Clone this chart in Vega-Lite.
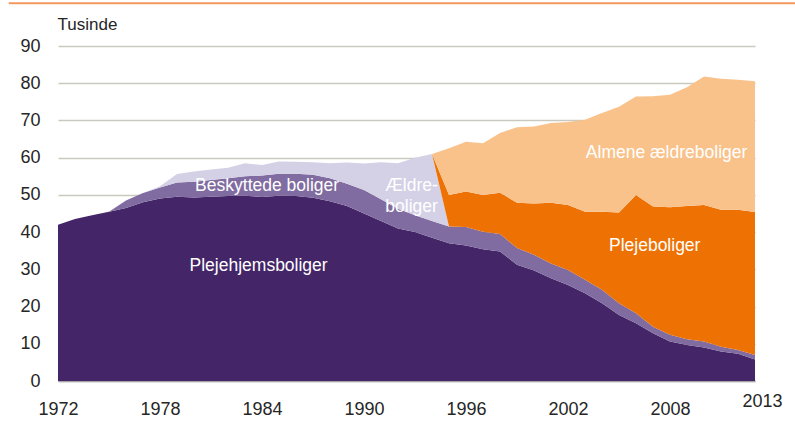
{
  "$schema": "https://vega.github.io/schema/vega-lite/v6.json",
  "width": 697,
  "height": 335,
  "autosize": "none",
  "padding": {"left": 58, "top": 46, "right": 40, "bottom": 42},
  "background": "white",
  "config": {
    "view": {"stroke": null},
    "font": "Liberation Sans, Arial, sans-serif",
    "axisY": {
      "titleAngle": 0,
      "titleAlign": "left",
      "titleBaseline": "alphabetic",
      "titleX": -1,
      "titleY": -17,
      "titleFont": "Liberation Sans, Arial, sans-serif",
      "titleFontSize": 17,
      "titleFontWeight": "normal",
      "titleColor": "#262626",
      "grid": true,
      "gridColor": "#C9C9C0",
      "gridWidth": 1.5,
      "ticks": false,
      "domain": false,
      "labelFont": "Liberation Sans, Arial, sans-serif",
      "labelFontSize": 18,
      "labelColor": "#262626",
      "labelPadding": 18,
      "labelOverlap": false,
      "labelFlush": false
    }
  },
  "layer": [
    {
      "data": {
        "values": [
          {"year": 1972, "Plejehjemsboliger": 42.0, "Beskyttede boliger": 0, "Ældreboliger": 0, "Plejeboliger": 0, "Almene ældreboliger": 0},
          {"year": 1973, "Plejehjemsboliger": 43.5, "Beskyttede boliger": 0, "Ældreboliger": 0, "Plejeboliger": 0, "Almene ældreboliger": 0},
          {"year": 1974, "Plejehjemsboliger": 44.5, "Beskyttede boliger": 0, "Ældreboliger": 0, "Plejeboliger": 0, "Almene ældreboliger": 0},
          {"year": 1975, "Plejehjemsboliger": 45.5, "Beskyttede boliger": 0, "Ældreboliger": 0, "Plejeboliger": 0, "Almene ældreboliger": 0},
          {"year": 1976, "Plejehjemsboliger": 46.5, "Beskyttede boliger": 2.0, "Ældreboliger": 0, "Plejeboliger": 0, "Almene ældreboliger": 0},
          {"year": 1977, "Plejehjemsboliger": 48.0, "Beskyttede boliger": 2.5, "Ældreboliger": 0, "Plejeboliger": 0, "Almene ældreboliger": 0},
          {"year": 1978, "Plejehjemsboliger": 49.0, "Beskyttede boliger": 3.0, "Ældreboliger": 0.3, "Plejeboliger": 0, "Almene ældreboliger": 0},
          {"year": 1979, "Plejehjemsboliger": 49.5, "Beskyttede boliger": 3.8, "Ældreboliger": 2.3, "Plejeboliger": 0, "Almene ældreboliger": 0},
          {"year": 1980, "Plejehjemsboliger": 49.3, "Beskyttede boliger": 4.2, "Ældreboliger": 2.8, "Plejeboliger": 0, "Almene ældreboliger": 0},
          {"year": 1981, "Plejehjemsboliger": 49.5, "Beskyttede boliger": 4.5, "Ældreboliger": 2.8, "Plejeboliger": 0, "Almene ældreboliger": 0},
          {"year": 1982, "Plejehjemsboliger": 49.7, "Beskyttede boliger": 4.8, "Ældreboliger": 2.8, "Plejeboliger": 0, "Almene ældreboliger": 0},
          {"year": 1983, "Plejehjemsboliger": 49.8, "Beskyttede boliger": 5.2, "Ældreboliger": 3.5, "Plejeboliger": 0, "Almene ældreboliger": 0},
          {"year": 1984, "Plejehjemsboliger": 49.4, "Beskyttede boliger": 5.8, "Ældreboliger": 2.8, "Plejeboliger": 0, "Almene ældreboliger": 0},
          {"year": 1985, "Plejehjemsboliger": 49.8, "Beskyttede boliger": 5.9, "Ældreboliger": 3.3, "Plejeboliger": 0, "Almene ældreboliger": 0},
          {"year": 1986, "Plejehjemsboliger": 49.7, "Beskyttede boliger": 6.0, "Ældreboliger": 3.2, "Plejeboliger": 0, "Almene ældreboliger": 0},
          {"year": 1987, "Plejehjemsboliger": 49.2, "Beskyttede boliger": 6.2, "Ældreboliger": 3.4, "Plejeboliger": 0, "Almene ældreboliger": 0},
          {"year": 1988, "Plejehjemsboliger": 48.3, "Beskyttede boliger": 6.2, "Ældreboliger": 4.0, "Plejeboliger": 0, "Almene ældreboliger": 0},
          {"year": 1989, "Plejehjemsboliger": 47.0, "Beskyttede boliger": 6.0, "Ældreboliger": 5.7, "Plejeboliger": 0, "Almene ældreboliger": 0},
          {"year": 1990, "Plejehjemsboliger": 45.0, "Beskyttede boliger": 6.3, "Ældreboliger": 7.1, "Plejeboliger": 0, "Almene ældreboliger": 0},
          {"year": 1991, "Plejehjemsboliger": 43.0, "Beskyttede boliger": 5.8, "Ældreboliger": 10.0, "Plejeboliger": 0, "Almene ældreboliger": 0},
          {"year": 1992, "Plejehjemsboliger": 41.0, "Beskyttede boliger": 5.3, "Ældreboliger": 12.2, "Plejeboliger": 0, "Almene ældreboliger": 0},
          {"year": 1993, "Plejehjemsboliger": 40.0, "Beskyttede boliger": 4.5, "Ældreboliger": 15.5, "Plejeboliger": 0, "Almene ældreboliger": 0},
          {"year": 1994, "Plejehjemsboliger": 38.5, "Beskyttede boliger": 4.5, "Ældreboliger": 18.0, "Plejeboliger": 0, "Almene ældreboliger": 0},
          {"year": 1995, "Plejehjemsboliger": 37.0, "Beskyttede boliger": 4.5, "Ældreboliger": 0, "Plejeboliger": 8.5, "Almene ældreboliger": 12.5},
          {"year": 1996, "Plejehjemsboliger": 36.4, "Beskyttede boliger": 5.0, "Ældreboliger": 0, "Plejeboliger": 9.5, "Almene ældreboliger": 13.4},
          {"year": 1997, "Plejehjemsboliger": 35.4, "Beskyttede boliger": 4.7, "Ældreboliger": 0, "Plejeboliger": 9.9, "Almene ældreboliger": 13.9},
          {"year": 1998, "Plejehjemsboliger": 34.8, "Beskyttede boliger": 4.7, "Ældreboliger": 0, "Plejeboliger": 11.1, "Almene ældreboliger": 16.0},
          {"year": 1999, "Plejehjemsboliger": 31.2, "Beskyttede boliger": 4.5, "Ældreboliger": 0, "Plejeboliger": 12.2, "Almene ældreboliger": 20.3},
          {"year": 2000, "Plejehjemsboliger": 29.7, "Beskyttede boliger": 4.2, "Ældreboliger": 0, "Plejeboliger": 13.8, "Almene ældreboliger": 20.7},
          {"year": 2001, "Plejehjemsboliger": 27.6, "Beskyttede boliger": 4.0, "Ældreboliger": 0, "Plejeboliger": 16.3, "Almene ældreboliger": 21.4},
          {"year": 2002, "Plejehjemsboliger": 25.8, "Beskyttede boliger": 4.0, "Ældreboliger": 0, "Plejeboliger": 17.5, "Almene ældreboliger": 22.3},
          {"year": 2003, "Plejehjemsboliger": 23.6, "Beskyttede boliger": 3.6, "Ældreboliger": 0, "Plejeboliger": 18.3, "Almene ældreboliger": 24.7},
          {"year": 2004, "Plejehjemsboliger": 20.9, "Beskyttede boliger": 3.6, "Ældreboliger": 0, "Plejeboliger": 21.0, "Almene ældreboliger": 26.5},
          {"year": 2005, "Plejehjemsboliger": 17.7, "Beskyttede boliger": 3.2, "Ældreboliger": 0, "Plejeboliger": 24.4, "Almene ældreboliger": 28.4},
          {"year": 2006, "Plejehjemsboliger": 15.5, "Beskyttede boliger": 2.7, "Ældreboliger": 0, "Plejeboliger": 31.8, "Almene ældreboliger": 26.4},
          {"year": 2007, "Plejehjemsboliger": 12.8, "Beskyttede boliger": 1.8, "Ældreboliger": 0, "Plejeboliger": 32.3, "Almene ældreboliger": 29.6},
          {"year": 2008, "Plejehjemsboliger": 10.6, "Beskyttede boliger": 1.8, "Ældreboliger": 0, "Plejeboliger": 34.3, "Almene ældreboliger": 30.2},
          {"year": 2009, "Plejehjemsboliger": 9.7, "Beskyttede boliger": 1.5, "Ældreboliger": 0, "Plejeboliger": 35.8, "Almene ældreboliger": 31.9},
          {"year": 2010, "Plejehjemsboliger": 9.0, "Beskyttede boliger": 1.6, "Ældreboliger": 0, "Plejeboliger": 36.7, "Almene ældreboliger": 34.5},
          {"year": 2011, "Plejehjemsboliger": 7.9, "Beskyttede boliger": 1.3, "Ældreboliger": 0, "Plejeboliger": 36.8, "Almene ældreboliger": 35.2},
          {"year": 2012, "Plejehjemsboliger": 7.3, "Beskyttede boliger": 1.0, "Ældreboliger": 0, "Plejeboliger": 37.7, "Almene ældreboliger": 34.9},
          {"year": 2013, "Plejehjemsboliger": 5.8, "Beskyttede boliger": 1.2, "Ældreboliger": 0, "Plejeboliger": 38.4, "Almene ældreboliger": 35.1}
        ]
      },
      "transform": [
        {"fold": ["Plejehjemsboliger", "Beskyttede boliger", "Ældreboliger", "Plejeboliger", "Almene ældreboliger"], "as": ["type", "value"]},
        {
          "lookup": "type",
          "from": {
            "data": {
              "values": [
                {"type": "Plejehjemsboliger", "rank": 1},
                {"type": "Beskyttede boliger", "rank": 2},
                {"type": "Ældreboliger", "rank": 3},
                {"type": "Plejeboliger", "rank": 4},
                {"type": "Almene ældreboliger", "rank": 5}
              ]
            },
            "key": "type",
            "fields": ["rank"]
          }
        }
      ],
      "mark": {"type": "area", "interpolate": "linear"},
      "encoding": {
        "x": {
          "field": "year",
          "type": "quantitative",
          "scale": {"domain": [1972, 2013], "nice": false, "zero": false},
          "axis": {
            "title": null,
            "values": [1972, 1978, 1984, 1990, 1996, 2002, 2008, 2013],
            "tickCount": 20,
            "format": "d",
            "grid": false,
            "ticks": false,
            "domain": true,
            "domainColor": "#A6A6A6",
            "domainWidth": 1.5,
            "labelFont": "Liberation Sans, Arial, sans-serif",
            "labelFontSize": 18,
            "labelColor": "#262626",
            "labelPadding": {"condition": {"test": "datum.value == 2013", "value": 11}, "value": 19},
            "labelOffset": {"condition": {"test": "datum.value == 2013", "value": 7}, "value": 0},
            "labelFlush": false,
            "labelOverlap": false,
            "labelBaseline": "top"
          }
        },
        "y": {
          "field": "value",
          "type": "quantitative",
          "stack": "zero",
          "title": "Tusinde",
          "scale": {"domain": [0, 90], "nice": false},
          "axis": {"title": "Tusinde", "values": [0, 10, 20, 30, 40, 50, 60, 70, 80, 90], "tickCount": 20}
        },
        "color": {
          "field": "type",
          "type": "nominal",
          "scale": {
            "domain": ["Plejehjemsboliger", "Beskyttede boliger", "Ældreboliger", "Plejeboliger", "Almene ældreboliger"],
            "range": ["#442567", "#806CA0", "#D4D0E6", "#EE7203", "#F9C28B"]
          },
          "legend": null
        },
        "order": {"field": "rank", "type": "quantitative", "sort": "ascending"}
      }
    },
    {
      "data": {
        "values": [
          {"label": "Plejehjemsboliger", "year": 1983.8, "value": 30.9},
          {"label": "Beskyttede boliger", "year": 1984.3, "value": 52.4},
          {"label": "Ældre-\nboliger", "year": 1992.8, "value": 52.4},
          {"label": "Plejeboliger", "year": 2007.1, "value": 36.3},
          {"label": "Almene ældreboliger", "year": 2007.8, "value": 61.3}
        ]
      },
      "mark": {
        "type": "text",
        "align": "center",
        "baseline": "middle",
        "font": "Liberation Sans, Arial, sans-serif",
        "fontSize": 17.5,
        "color": "#FFFFFF",
        "lineBreak": "\n",
        "lineHeight": 21
      },
      "encoding": {
        "x": {"field": "year", "type": "quantitative"},
        "y": {
          "field": "value",
          "type": "quantitative",
          "title": "Tusinde",
          "axis": {"title": "Tusinde", "values": [0, 10, 20, 30, 40, 50, 60, 70, 80, 90], "tickCount": 20}
        },
        "text": {"field": "label"}
      }
    },
    {
      "data": {"values": [{"note": "top rule"}]},
      "mark": {"type": "rule", "color": "#F29A5C", "strokeWidth": 2, "clip": false},
      "encoding": {
        "x": {"datum": 1969.1, "type": "quantitative"},
        "x2": {"datum": 2015.4},
        "y": {"datum": 101.5, "type": "quantitative"}
      }
    }
  ]
}
